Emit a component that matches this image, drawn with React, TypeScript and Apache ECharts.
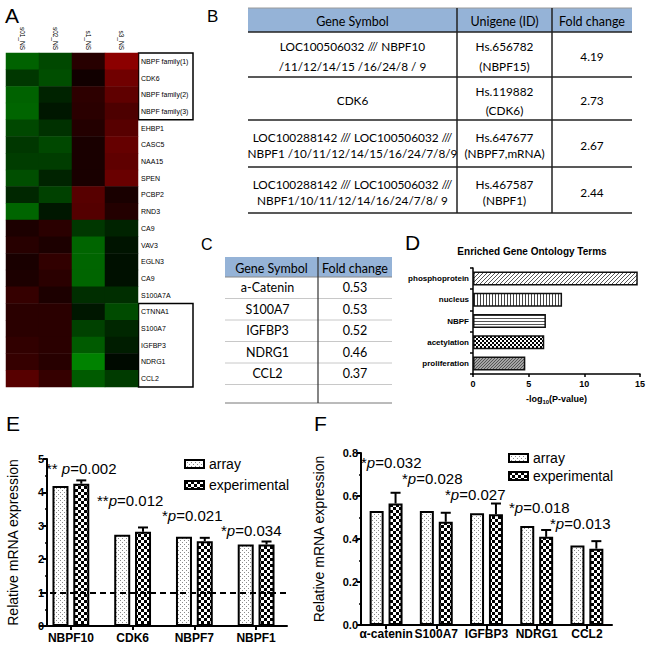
import React, { useEffect, useRef } from 'react';
import * as echarts from 'echarts';

const FONT = '"Liberation Sans", Arial, sans-serif';
const TFONT = 'Lato, "Open Sans", sans-serif';

// ---------- A: heatmap ----------
const heatSamples = ['s01_NS', 's02_NS', 's1_NS', 's3_NS'];
const heatGenes = [
  'NBPF family(1)', 'CDK6', 'NBPF family(2)', 'NBPF family(3)', 'EHBP1', 'CASC5', 'NAA15', 'SPEN',
  'PCBP2', 'RND3', 'CA9', 'VAV3', 'EGLN3', 'CA9', 'S100A7A', 'CTNNA1', 'S100A7', 'IGFBP3', 'NDRG1', 'CCL2',
];
const heatValues = [
  [-0.75, -0.55, 0.28, 1.0],
  [-0.42, -0.6, 0.12, 0.8],
  [-0.75, -0.27, 0.32, 0.68],
  [-0.78, -0.18, 0.3, 0.55],
  [-0.55, -0.38, 0.25, 0.62],
  [-0.42, -0.55, 0.18, 0.72],
  [-0.47, -0.47, 0.18, 0.68],
  [-0.6, -0.27, 0.18, 0.75],
  [-0.3, -0.5, 0.62, 0.18],
  [-0.78, -0.18, 0.6, 0.25],
  [0.2, 0.3, -0.42, -0.27],
  [0.28, 0.2, -0.78, -0.15],
  [0.18, 0.35, -0.78, -0.12],
  [0.2, 0.3, -0.78, -0.12],
  [0.38, 0.2, -0.35, -0.35],
  [0.3, 0.3, -0.18, -0.58],
  [0.3, 0.3, -0.5, -0.3],
  [0.35, 0.3, -0.7, -0.22],
  [0.38, 0.28, -1.0, -0.08],
  [0.62, 0.38, -0.7, -0.45],
];

// ---------- B: table ----------
const tableBHeader = ['Gene Symbol', 'Unigene (ID)', 'Fold change'];
const tableBGene = [
  ['LOC100506032 /// NBPF10', '/11/12/14/15 /16/24/8 / 9'],
  ['CDK6'],
  ['LOC100288142 /// LOC100506032 ///', 'NBPF1 /10/11/12/14/15/16/24/7/8/9'],
  ['LOC100288142 /// LOC100506032 ///', 'NBPF1/10/11/12/14/16/24/7/8/ 9'],
];
const tableBUnigene = [
  ['Hs.656782', '(NBPF15)'],
  ['Hs.119882', '(CDK6)'],
  ['Hs.647677', '(NBPF7,mRNA)'],
  ['Hs.467587', '(NBPF1)'],
];
const tableBFold = ['4.19', '2.73', '2.67', '2.44'];

// ---------- C: table ----------
const tableCHeader = ['Gene Symbol', 'Fold change'];
const tableCGenes = ['a-Catenin', 'S100A7', 'IGFBP3', 'NDRG1', 'CCL2'];
const tableCFold = ['0.53', '0.53', '0.52', '0.46', '0.37'];

// ---------- D: GO terms ----------
const goTitle = 'Enriched Gene Ontology Terms';
const goTerms = ['phosphoprotein', 'nucleus', 'NBPF', 'acetylation', 'proliferation'];
const goValues = [14.8, 8.0, 6.55, 6.4, 4.7];

// ---------- E ----------
const eGenes = ['NBPF10', 'CDK6', 'NBPF7', 'NBPF1'];
const eArray = [4.19, 2.73, 2.67, 2.44];
const eExp = [4.26, 2.82, 2.54, 2.44];
const eErr = [0.1, 0.13, 0.1, 0.09];
const eStars = ['** ', '**', '*', '*'];
const eP = ['0.002', '0.012', '0.021', '0.034'];

// ---------- F ----------
const fGenes = ['α-catenin', 'S100A7', 'IGFBP3', 'NDRG1', 'CCL2'];
const fArray = [0.53, 0.53, 0.52, 0.46, 0.37];
const fExp = [0.565, 0.48, 0.515, 0.41, 0.355];
const fErr = [0.05, 0.042, 0.05, 0.032, 0.035];
const fStars = ['*', '*', '*', '*', '*'];
const fP = ['0.032', '0.028', '0.027', '0.018', '0.013'];

const seriesNames = ['array', 'experimental'];

function makePattern(w: number, h: number, draw: (ctx: CanvasRenderingContext2D) => void) {
  const c = document.createElement('canvas');
  c.width = w;
  c.height = h;
  const ctx = c.getContext('2d') as CanvasRenderingContext2D;
  draw(ctx);
  return { image: c, repeat: 'repeat' } as any;
}

export default function App() {
  const ref = useRef<HTMLDivElement>(null);
  useEffect(() => {
    if (!ref.current) return;
    const chart = echarts.init(ref.current, undefined, { renderer: 'svg' });

    const stipple = makePattern(4, 4, (ctx) => {
      ctx.fillStyle = '#fff'; ctx.fillRect(0, 0, 4, 4);
      ctx.fillStyle = '#8a8a8a'; ctx.fillRect(0, 0, 1, 1); ctx.fillRect(2, 2, 1, 1);
    });
    const checker = makePattern(6, 6, (ctx) => {
      ctx.fillStyle = '#fff'; ctx.fillRect(0, 0, 6, 6);
      ctx.fillStyle = '#000'; ctx.fillRect(0, 0, 3, 3); ctx.fillRect(3, 3, 3, 3);
    });
    const diag = makePattern(4, 4, (ctx) => {
      ctx.fillStyle = '#fff'; ctx.fillRect(0, 0, 4, 4);
      ctx.fillStyle = '#555';
      for (let i = 0; i < 4; i++) ctx.fillRect(i, 3 - i, 1, 1);
    });
    const vert = makePattern(3, 3, (ctx) => {
      ctx.fillStyle = '#fff'; ctx.fillRect(0, 0, 3, 3);
      ctx.fillStyle = '#444'; ctx.fillRect(0, 0, 1, 3);
    });
    const horiz = makePattern(3, 3, (ctx) => {
      ctx.fillStyle = '#fff'; ctx.fillRect(0, 0, 3, 3);
      ctx.fillStyle = '#555'; ctx.fillRect(0, 0, 3, 1);
    });
    const smallChecker = makePattern(4, 4, (ctx) => {
      ctx.fillStyle = '#000'; ctx.fillRect(0, 0, 4, 4);
      ctx.fillStyle = '#fff'; ctx.fillRect(0, 0, 2, 2); ctx.fillRect(2, 2, 2, 2);
    });
    const grayTex = makePattern(3, 3, (ctx) => {
      ctx.fillStyle = '#a4a4a4'; ctx.fillRect(0, 0, 3, 3);
      ctx.fillStyle = '#555'; ctx.fillRect(0, 0, 1, 1); ctx.fillRect(1, 2, 1, 1); ctx.fillRect(2, 1, 1, 1);
    });
    const goPatterns = [diag, vert, horiz, smallChecker, grayTex];

    const graphics: any[] = [];
    const txt = (x: number, y: number, text: string, opts: any = {}) => {
      graphics.push({
        type: 'text', x, y, silent: true,
        style: {
          text, fill: '#000', fontFamily: opts.fontFamily || FONT, fontSize: opts.fontSize || 12,
          fontWeight: opts.fontWeight || 'normal', align: opts.align || 'left',
          verticalAlign: opts.verticalAlign || 'middle', rich: opts.rich, lineHeight: opts.lineHeight,
        },
      });
    };
    const hline = (x1: number, x2: number, y: number, stroke = '#222', lw = 1.5) => {
      graphics.push({ type: 'line', silent: true, shape: { x1, y1: y, x2, y2: y }, style: { stroke, lineWidth: lw } });
    };
    const vline = (x: number, y1: number, y2: number, stroke = '#222', lw = 1.5) => {
      graphics.push({ type: 'line', silent: true, shape: { x1: x, y1, x2: x, y2 }, style: { stroke, lineWidth: lw } });
    };

    // panel letters
    txt(5, 5, 'A', { fontSize: 21, verticalAlign: 'top' });
    txt(207, 8, 'B', { fontSize: 17, verticalAlign: 'top' });
    txt(201, 236, 'C', { fontSize: 16, verticalAlign: 'top' });
    txt(405, 232, 'D', { fontSize: 21, verticalAlign: 'top' });
    txt(6, 413, 'E', { fontSize: 21, verticalAlign: 'top' });
    txt(314, 413, 'F', { fontSize: 21, verticalAlign: 'top' });

    // heatmap boxes
    const hTop = 53, hH = 334, rowH = hH / heatGenes.length;
    graphics.push({ type: 'rect', silent: true, shape: { x: 138.5, y: hTop, width: 54.5, height: rowH * 4 }, style: { fill: 'none', stroke: '#000', lineWidth: 1.5 } });
    graphics.push({ type: 'rect', silent: true, shape: { x: 138.5, y: hTop + rowH * 15, width: 54.5, height: rowH * 5 }, style: { fill: 'none', stroke: '#000', lineWidth: 1.5 } });

    // table B
    const bX = [248, 457, 552, 632];
    const bY = [8, 32, 77, 120, 167, 213];
    const bSpacing = [20, 19, 16, 16];
    graphics.push({ type: 'rect', silent: true, shape: { x: bX[0], y: bY[0], width: bX[3] - bX[0], height: bY[1] - bY[0] }, style: { fill: '#95B3D7' } });
    hline(bX[0], bX[3], bY[0], '#9a9a9a', 1);
    for (let i = 1; i < bY.length; i++) hline(bX[0], bX[3], bY[i]);
    vline(bX[1], bY[0], bY[5]);
    vline(bX[2], bY[0], bY[5]);
    const bfs = 11.8;
    tableBHeader.forEach((h, c) => txt((bX[c] + bX[c + 1]) / 2, (bY[0] + bY[1]) / 2 + 1, h, { fontFamily: TFONT, fontSize: 12.5, align: 'center' }));
    for (let r = 0; r < 4; r++) {
      const mid = (bY[r + 1] + bY[r + 2]) / 2 + 2;
      const sp = bSpacing[r];
      const place = (lines: string[], cx: number) => {
        lines.forEach((l, k) => {
          const y = lines.length === 1 ? mid : mid + (k - 0.5) * sp;
          txt(cx, y, l, { fontFamily: TFONT, fontSize: bfs, align: 'center' });
        });
      };
      place(tableBGene[r], (bX[0] + bX[1]) / 2);
      place(tableBUnigene[r], (bX[1] + bX[2]) / 2);
      place([tableBFold[r]], (bX[2] + bX[3]) / 2);
    }

    // table C
    const cX = [225, 318, 392];
    const cTop = 257, cHead = 20, cRow = 21.5, cBottom = 403;
    graphics.push({ type: 'rect', silent: true, shape: { x: cX[0], y: cTop, width: cX[2] - cX[0], height: cHead }, style: { fill: '#95B3D7' } });
    hline(cX[0], cX[2], cTop + cHead, '#888', 1);
    for (let r = 1; r <= tableCGenes.length; r++) hline(cX[0], cX[2], cTop + cHead + r * cRow, '#c8c8c8', 1);
    hline(cX[0], cX[2], cBottom, '#777', 1);
    vline(cX[1], cTop, cBottom, '#333', 1.2);
    tableCHeader.forEach((h, c) => txt((cX[c] + cX[c + 1]) / 2, cTop + cHead / 2 + 1, h, { fontFamily: TFONT, fontSize: 12.5, align: 'center' }));
    tableCGenes.forEach((g, r) => {
      const y = cTop + cHead + (r + 0.5) * cRow;
      txt((cX[0] + cX[1]) / 2 - 4, y, g, { fontFamily: TFONT, fontSize: 12.5, align: 'center' });
      txt((cX[1] + cX[2]) / 2, y, tableCFold[r], { fontFamily: TFONT, fontSize: 12.5, align: 'center' });
    });

    // D title
    txt(532, 251, goTitle, { fontSize: 10, fontWeight: 'bold', align: 'center' });

    // annotations
    const annRich = {
      n: { fontSize: 15, fontFamily: FONT, fill: '#000', lineHeight: 12 },
      i: { fontSize: 15, fontFamily: FONT, fontStyle: 'italic', fill: '#000', lineHeight: 12 },
    };
    const ePos = [[46, 468], [97, 500], [162, 515], [221, 530]];
    eP.forEach((p, i) => txt(ePos[i][0], ePos[i][1], `{n|${eStars[i]}}{i|p}{n|=${p}}`, { rich: annRich, lineHeight: 12 }));
    const fPos = [[361, 462], [402, 478], [445, 494], [509, 507], [550, 523]];
    fP.forEach((p, i) => txt(fPos[i][0], fPos[i][1], `{n|${fStars[i]}}{i|p}{n|=${p}}`, { rich: annRich, lineHeight: 12 }));

    const axisBlack = (w: number) => ({ show: true, lineStyle: { color: '#000', width: w } });
    const errRender = (offset: number) => (params: any, api: any) => {
      const i = api.value(0);
      const v = api.value(1);
      const e = api.value(2);
      const base = api.coord([i, v]);
      const hi = api.coord([i, v + e]);
      const x = base[0] + offset;
      return {
        type: 'group',
        children: [
          { type: 'line', shape: { x1: x, y1: base[1], x2: x, y2: hi[1] }, style: { stroke: '#000', lineWidth: 2 } },
          { type: 'line', shape: { x1: x - 5, y1: hi[1], x2: x + 5, y2: hi[1] }, style: { stroke: '#000', lineWidth: 2 } },
        ],
      };
    };

    const eBarW = 16, eGap = 0.3, fBarW = 14, fGap = 0.35;

    const option: any = {
      animation: false,
      backgroundColor: '#fff',
      textStyle: { fontFamily: FONT },
      grid: [
        { left: 6, top: hTop, width: 132, height: hH, outerBoundsMode: 'none' },
        { left: 473, top: 268, width: 167, height: 106, outerBoundsMode: 'none' },
        { left: 40, top: 459, width: 247, height: 167, outerBoundsMode: 'none' },
        { left: 361, top: 453, width: 251, height: 172, outerBoundsMode: 'none' },
      ],
      visualMap: {
        show: false, seriesIndex: 0, dimension: 2, min: -1, max: 1,
        inRange: { color: ['#008200', '#000000', '#8c0000'] },
      },
      legend: [
        {
          data: seriesNames, left: 179, top: 452, orient: 'vertical', icon: 'rect',
          itemWidth: 19, itemHeight: 8, itemGap: 7, selectedMode: false,
          textStyle: { fontSize: 14, color: '#000', fontFamily: FONT },
        },
        {
          data: seriesNames, left: 503, top: 446, orient: 'vertical', icon: 'rect',
          itemWidth: 19, itemHeight: 8, itemGap: 4, selectedMode: false,
          textStyle: { fontSize: 14, color: '#000', fontFamily: FONT },
        },
      ],
      xAxis: [
        {
          gridIndex: 0, type: 'category', data: heatSamples, position: 'top',
          axisLine: { show: false }, axisTick: { show: false }, splitLine: { show: false },
          axisLabel: { rotate: 90, fontSize: 6.5, margin: 3, color: '#000', interval: 0 },
        },
        {
          gridIndex: 1, type: 'value', min: 0, max: 15, interval: 5,
          axisLine: axisBlack(1.5), axisTick: { show: true, length: 3, lineStyle: { color: '#000', width: 1.5 } },
          splitLine: { show: false },
          axisLabel: { fontSize: 9, fontWeight: 'bold', color: '#000', margin: 5 },
          name: '{a|-log}{s|10}{a|(P-value)}', nameLocation: 'middle', nameGap: 19,
          nameTextStyle: {
            color: '#000',
            rich: {
              a: { fontSize: 9, fontWeight: 'bold', color: '#000', lineHeight: 12 },
              s: { fontSize: 6, fontWeight: 'bold', color: '#000', lineHeight: 8, verticalAlign: 'bottom' },
            },
          },
        },
        {
          gridIndex: 2, type: 'category', data: eGenes,
          axisLine: axisBlack(2), axisTick: { show: true, alignWithLabel: true, length: 4, lineStyle: { color: '#000', width: 2 } },
          axisLabel: { fontSize: 12, fontWeight: 'bold', color: '#000', margin: 6, interval: 0 },
        },
        {
          gridIndex: 3, type: 'category', data: fGenes,
          axisLine: axisBlack(2), axisTick: { show: true, alignWithLabel: true, length: 4, lineStyle: { color: '#000', width: 2 } },
          axisLabel: { fontSize: 12, fontWeight: 'bold', color: '#000', margin: 3, interval: 0, hideOverlap: false },
        },
      ],
      yAxis: [
        {
          gridIndex: 0, type: 'category', data: heatGenes, inverse: true, position: 'right',
          axisLine: { show: false }, axisTick: { show: false }, splitLine: { show: false },
          axisLabel: { fontSize: 7, margin: 3, color: '#000', interval: 0 },
        },
        {
          gridIndex: 1, type: 'category', data: goTerms, inverse: true,
          axisLine: axisBlack(1.5), axisTick: { show: true, length: 3, lineStyle: { color: '#000', width: 1.5 } },
          axisLabel: { fontSize: 8, fontWeight: 'bold', color: '#000', margin: 4, interval: 0 },
        },
        {
          gridIndex: 2, type: 'value', min: 0, max: 5, interval: 1, offset: -7,
          axisLine: axisBlack(2), axisTick: { show: true, length: 4, lineStyle: { color: '#000', width: 2 } },
          minorTick: { show: true, splitNumber: 2, length: 2, lineStyle: { color: '#000', width: 1.5 } },
          splitLine: { show: false }, minorSplitLine: { show: false },
          axisLabel: { fontSize: 11, fontWeight: 'bold', color: '#000', margin: 3 },
          name: 'Relative mRNA expression', nameLocation: 'middle', nameGap: 27,
          nameTextStyle: { fontSize: 14, color: '#000' },
        },
        {
          gridIndex: 3, type: 'value', min: 0, max: 0.8, interval: 0.2,
          axisLine: axisBlack(2), axisTick: { show: true, length: 4, lineStyle: { color: '#000', width: 2 } },
          minorTick: { show: true, splitNumber: 2, length: 2, lineStyle: { color: '#000', width: 1.5 } },
          splitLine: { show: false }, minorSplitLine: { show: false },
          axisLabel: { fontSize: 11, fontWeight: 'bold', color: '#000', margin: 3, formatter: (v: number) => v.toFixed(1) },
          name: 'Relative mRNA expression', nameLocation: 'middle', nameGap: 35,
          nameTextStyle: { fontSize: 14, color: '#000' },
        },
      ],
      series: [
        {
          type: 'heatmap', xAxisIndex: 0, yAxisIndex: 0, silent: true,
          data: heatValues.flatMap((row, r) => row.map((v, c) => [c, r, v])),
          itemStyle: { borderWidth: 0 },
        },
        {
          type: 'bar', xAxisIndex: 1, yAxisIndex: 1, barWidth: 14, silent: true,
          data: goValues.map((v, i) => ({ value: v, itemStyle: { color: goPatterns[i] } })),
          itemStyle: { borderColor: '#111', borderWidth: 1.5 },
        },
        {
          type: 'bar', name: 'array', xAxisIndex: 2, yAxisIndex: 2, barWidth: eBarW, barGap: `${eGap * 100}%`, silent: true,
          data: eArray, itemStyle: { color: stipple, borderColor: '#000', borderWidth: 2 },
          markLine: {
            silent: true, symbol: 'none', label: { show: false },
            lineStyle: { type: [6, 4], color: '#000', width: 2 },
            data: [{ yAxis: 1 }],
          },
        },
        {
          type: 'bar', name: 'experimental', xAxisIndex: 2, yAxisIndex: 2, barWidth: eBarW, barGap: `${eGap * 100}%`, silent: true,
          data: eExp, itemStyle: { color: checker, borderColor: '#000', borderWidth: 2 },
        },
        {
          type: 'custom', xAxisIndex: 2, yAxisIndex: 2, silent: true, z: 3,
          encode: { x: 0, y: 1 },
          renderItem: errRender((eBarW + eGap * eBarW) / 2),
          data: eExp.map((v, i) => [i, v, eErr[i]]),
        },
        {
          type: 'bar', name: 'array', xAxisIndex: 3, yAxisIndex: 3, barWidth: fBarW, barGap: `${fGap * 100}%`, silent: true,
          data: fArray, itemStyle: { color: stipple, borderColor: '#000', borderWidth: 2 },
        },
        {
          type: 'bar', name: 'experimental', xAxisIndex: 3, yAxisIndex: 3, barWidth: fBarW, barGap: `${fGap * 100}%`, silent: true,
          data: fExp, itemStyle: { color: checker, borderColor: '#000', borderWidth: 2 },
        },
        {
          type: 'custom', xAxisIndex: 3, yAxisIndex: 3, silent: true, z: 3,
          encode: { x: 0, y: 1 },
          renderItem: errRender((fBarW + fGap * fBarW) / 2),
          data: fExp.map((v, i) => [i, v, fErr[i]]),
        },
      ],
      graphic: graphics,
    };
    chart.setOption(option);
    return () => chart.dispose();
  }, []);
  return <div ref={ref} style={{ position: 'fixed', left: 0, top: 0, width: 650, height: 647, background: '#fff' }} />;
}
